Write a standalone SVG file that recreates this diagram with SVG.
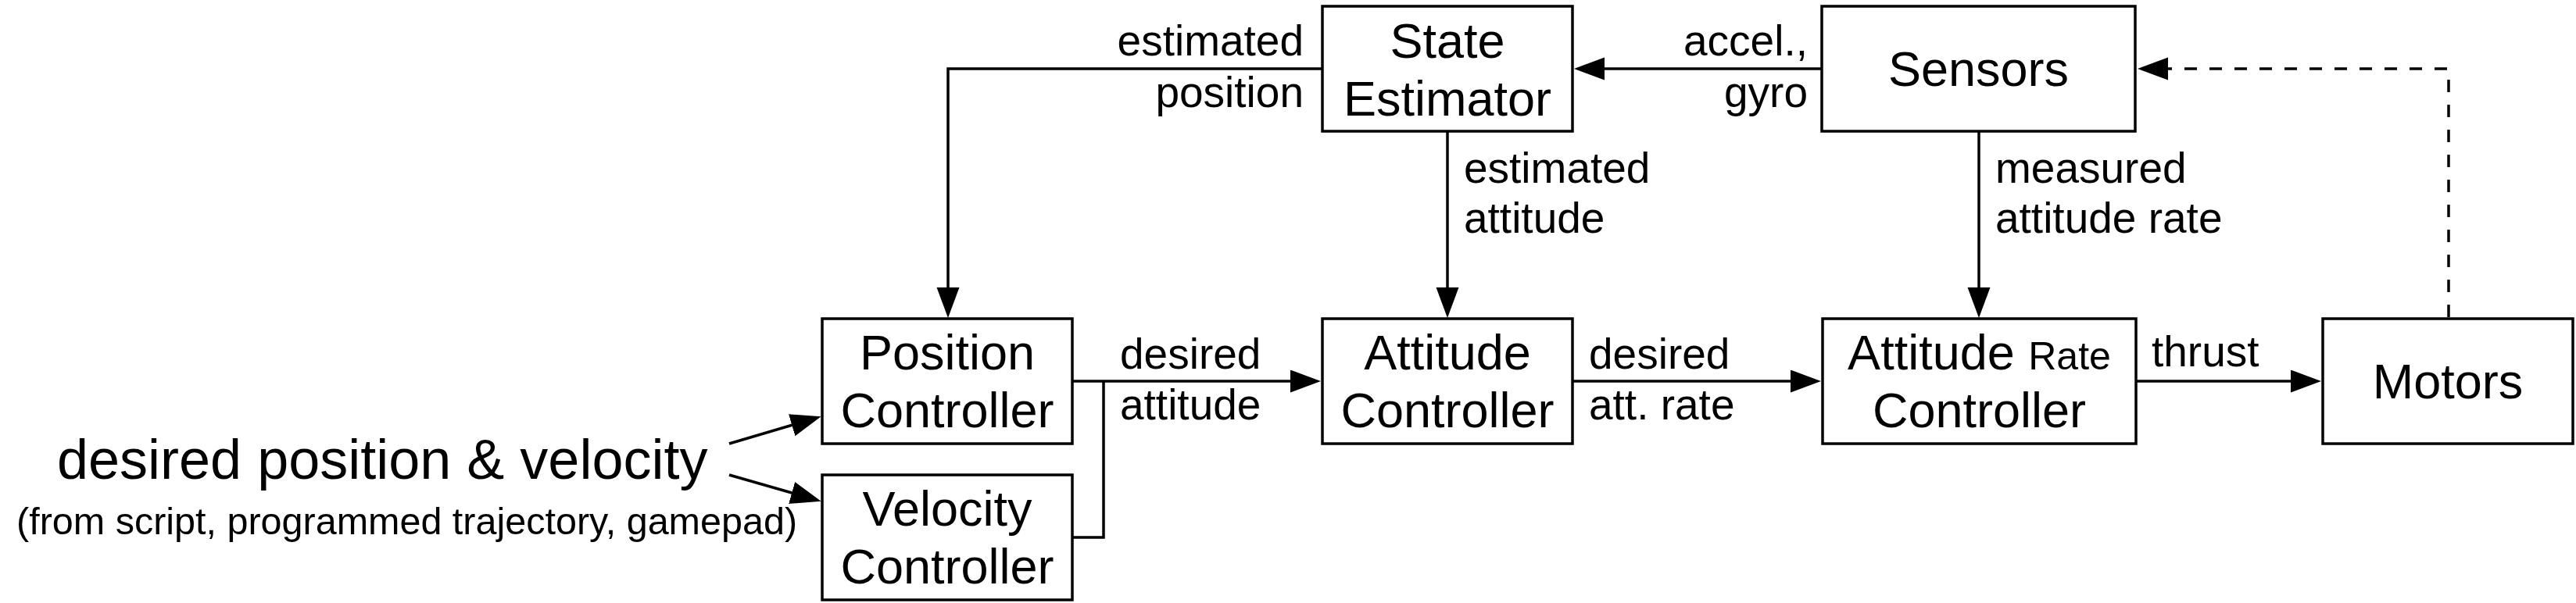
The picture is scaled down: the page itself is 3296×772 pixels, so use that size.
<svg xmlns="http://www.w3.org/2000/svg" width="3296" height="772" viewBox="0 0 3296 772">
  <style>
    .box { fill: #ffffff; stroke: #000000; stroke-width: 3.5; }
    .node { font-family: "Liberation Sans", Arial, Helvetica, sans-serif; font-size: 63px; fill: #000000; text-anchor: middle; }
    .lbl { font-family: "Liberation Sans", Arial, Helvetica, sans-serif; font-size: 55px; fill: #000000; }
    .end { text-anchor: end; }
    .wire { fill: none; stroke: #000000; stroke-width: 3.5; }
    .dash { stroke-dasharray: 16 16; }
  </style>
  <defs>
    <marker id="arrow" markerUnits="userSpaceOnUse" markerWidth="40" markerHeight="30" viewBox="0 0 40 30" refX="29" refY="14.5" orient="auto">
      <path d="M0,0 L39,14.5 L0,29 Z" fill="#000000"/>
    </marker>
  </defs>
  <rect width="3296" height="772" fill="#ffffff"/>

  <g id="connectors">
    <path class="wire" d="M1692,88 H1213 V397" marker-end="url(#arrow)"/>
    <path class="wire" d="M2331,88 H2024" marker-end="url(#arrow)"/>
    <path class="wire" d="M1852,168 V397" marker-end="url(#arrow)"/>
    <path class="wire" d="M2532,168 V397" marker-end="url(#arrow)"/>
    <path class="wire" d="M1372,488 H1680" marker-end="url(#arrow)"/>
    <path class="wire" d="M1372,688 H1412 V488"/>
    <path class="wire" d="M2012,488 H2320" marker-end="url(#arrow)"/>
    <path class="wire" d="M2733,488 H2960" marker-end="url(#arrow)"/>
    <path class="wire dash" d="M3133,406 V88 H2745" marker-end="url(#arrow)"/>
    <path class="wire" d="M933,568 L1041,536" marker-end="url(#arrow)"/>
    <path class="wire" d="M933,608 L1041,639" marker-end="url(#arrow)"/>
    <text class="lbl end" x="1668" y="71">estimated</text>
    <text class="lbl end" x="1668" y="137">position</text>
    <text class="lbl end" x="2313" y="71">accel.,</text>
    <text class="lbl end" x="2313" y="137">gyro</text>
    <text class="lbl" x="1873" y="234">estimated</text>
    <text class="lbl" x="1873" y="298">attitude</text>
    <text class="lbl" x="2553" y="234">measured</text>
    <text class="lbl" x="2553" y="298">attitude rate</text>
    <text class="lbl" x="1433" y="472">desired</text>
    <text class="lbl" x="1433" y="537">attitude</text>
    <text class="lbl" x="2033" y="472">desired</text>
    <text class="lbl" x="2033" y="537">att. rate</text>
    <text class="lbl" x="2753" y="469">thrust</text>
  </g>

  <g id="input">
    <text x="73" y="613" font-family="'Liberation Sans', Arial, Helvetica, sans-serif" font-size="72" fill="#000000">desired position &amp; velocity</text>
    <text x="21" y="684" font-family="'Liberation Sans', Arial, Helvetica, sans-serif" font-size="48.5" fill="#000000">(from script, programmed trajectory, gamepad)</text>
  </g>

  <g id="state-estimator">
    <rect class="box" x="1692" y="8" width="320" height="160"/>
    <text class="node" x="1852" y="74">State</text>
    <text class="node" x="1852" y="148">Estimator</text>
  </g>

  <g id="sensors">
    <rect class="box" x="2331" y="8" width="401" height="160"/>
    <text class="node" x="2531.5" y="110">Sensors</text>
  </g>

  <g id="position-controller">
    <rect class="box" x="1052" y="408" width="320" height="160"/>
    <text class="node" x="1212" y="473">Position</text>
    <text class="node" x="1212" y="547">Controller</text>
  </g>

  <g id="velocity-controller">
    <rect class="box" x="1052" y="608" width="320" height="160"/>
    <text class="node" x="1212" y="673">Velocity</text>
    <text class="node" x="1212" y="747">Controller</text>
  </g>

  <g id="attitude-controller">
    <rect class="box" x="1692" y="408" width="320" height="160"/>
    <text class="node" x="1852" y="473">Attitude</text>
    <text class="node" x="1852" y="547">Controller</text>
  </g>

  <g id="attitude-rate-controller">
    <rect class="box" x="2332" y="408" width="401" height="160"/>
    <text class="node" x="2532.5" y="473">Attitude <tspan font-size="50">Rate</tspan></text>
    <text class="node" x="2532.5" y="547">Controller</text>
  </g>

  <g id="motors">
    <rect class="box" x="2972" y="408" width="320" height="160"/>
    <text class="node" x="3132" y="510">Motors</text>
  </g>
</svg>
